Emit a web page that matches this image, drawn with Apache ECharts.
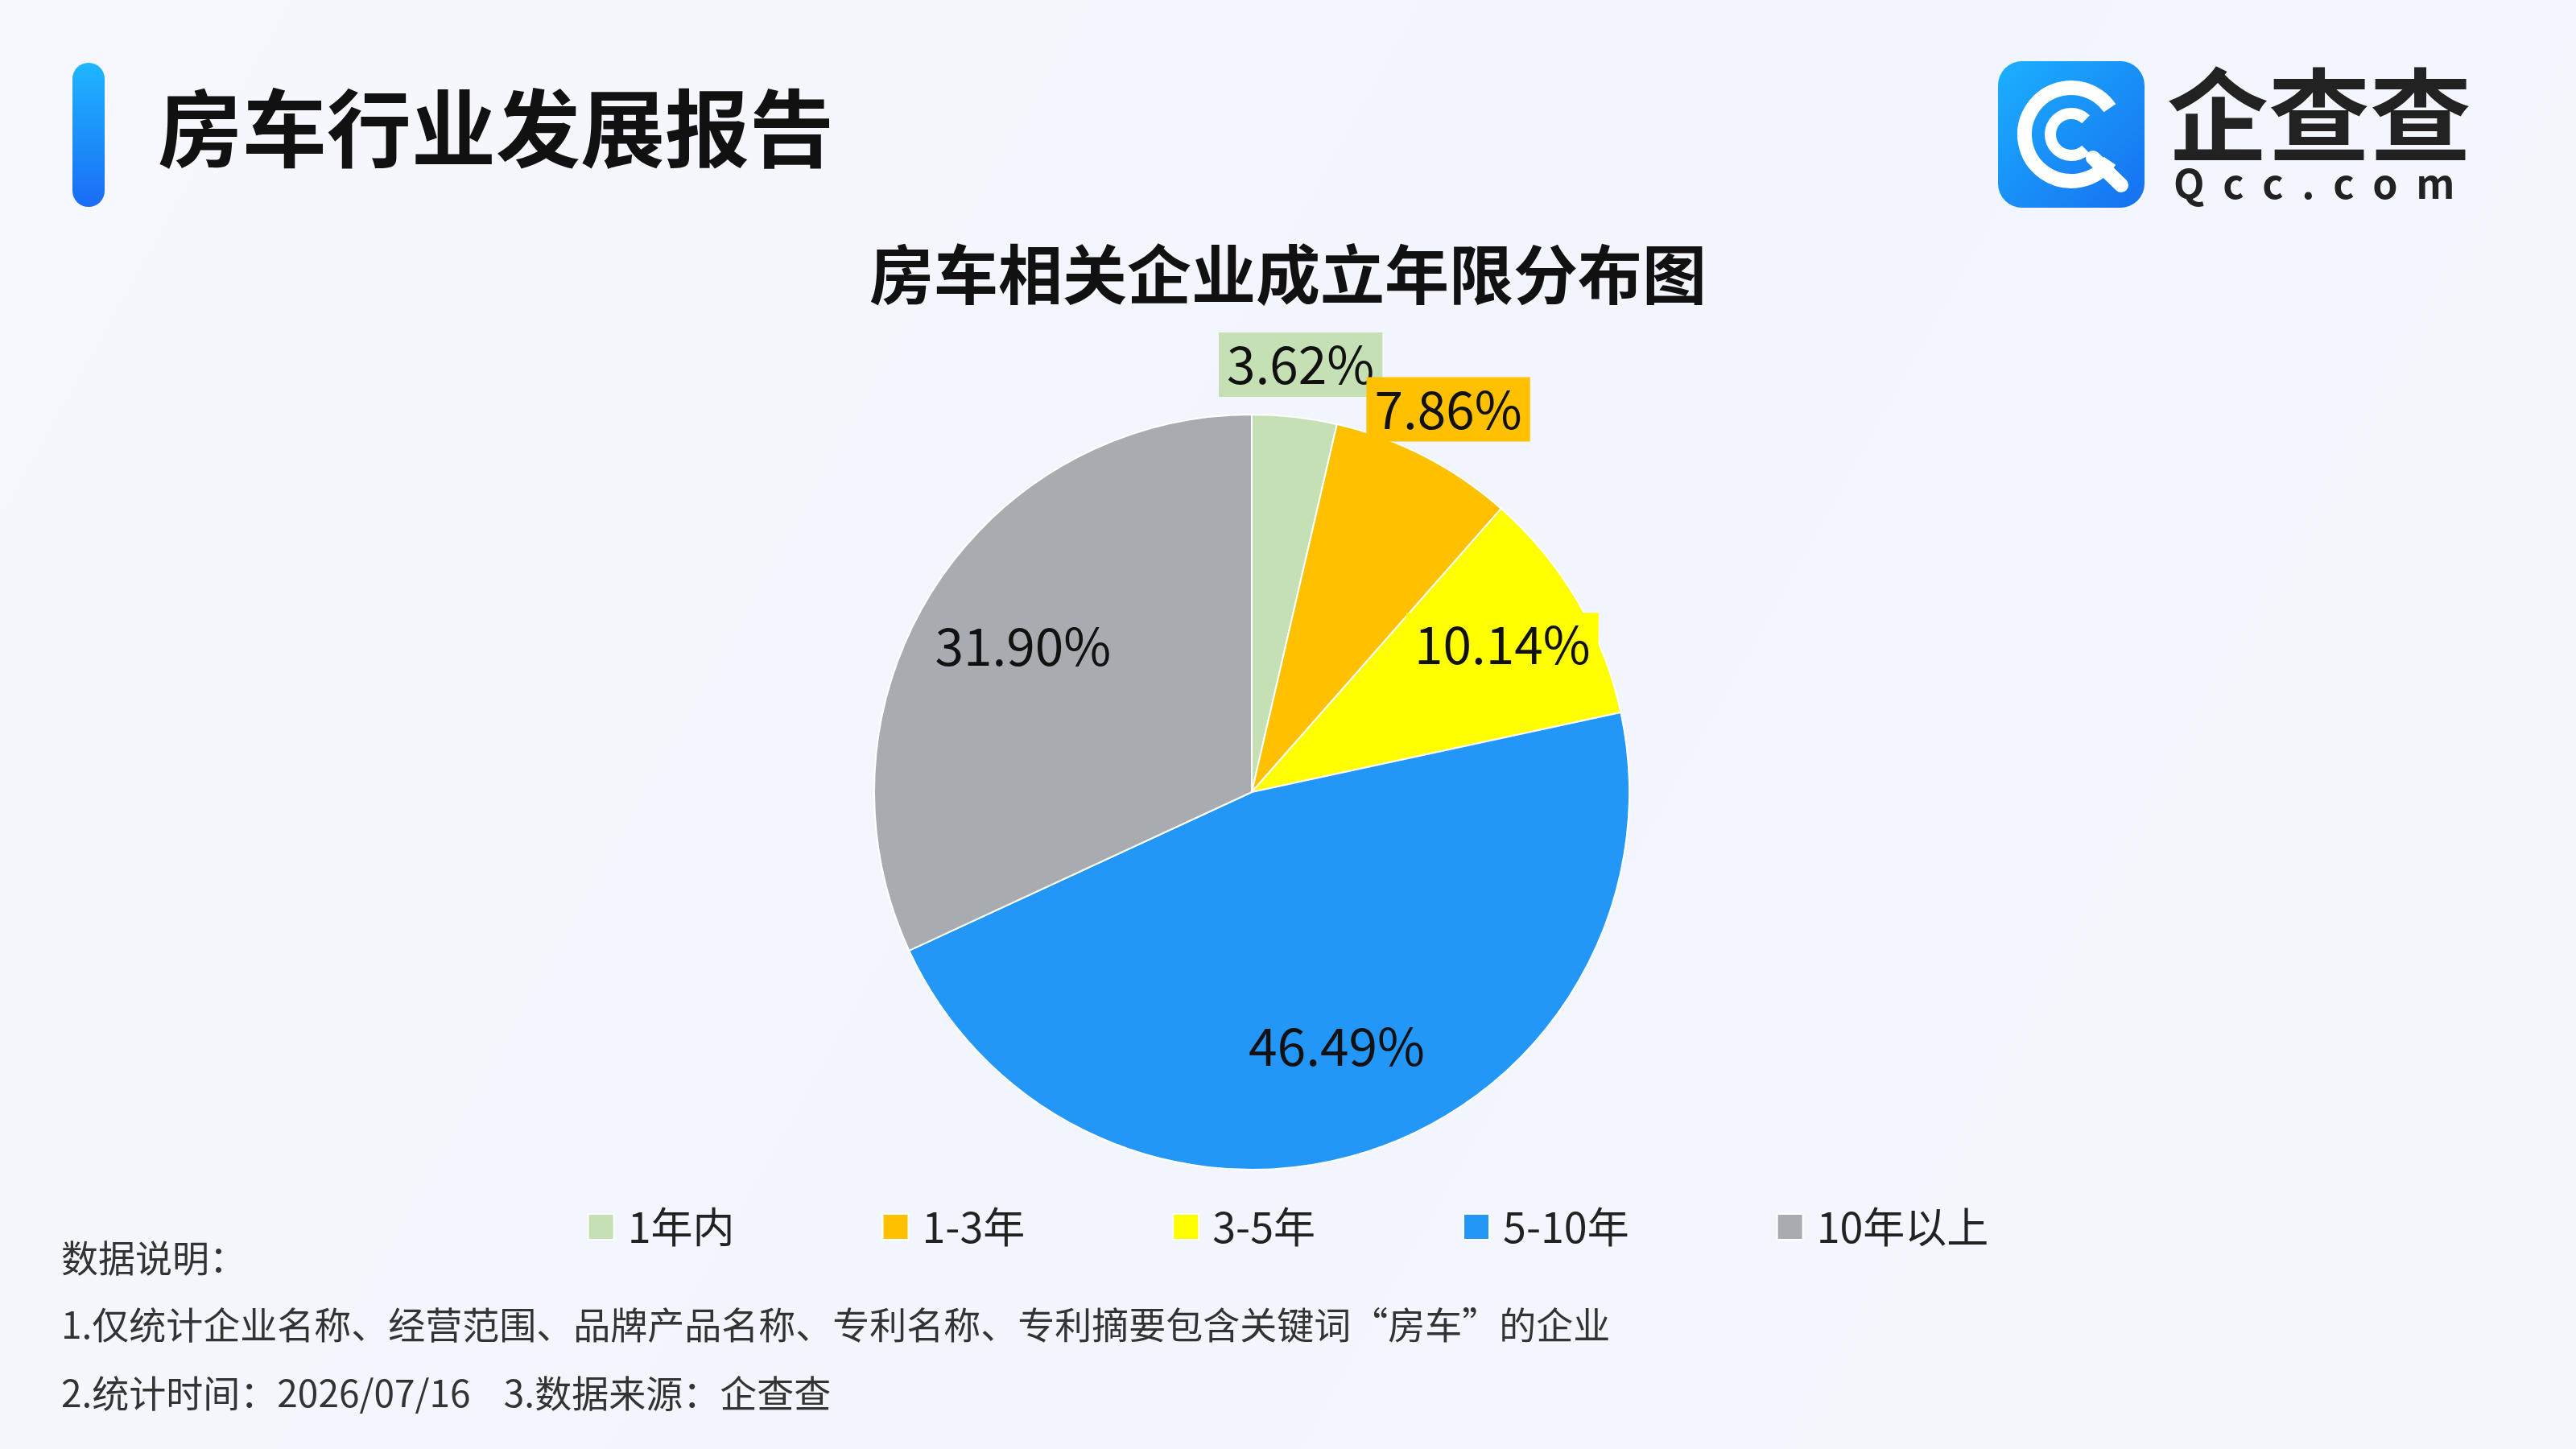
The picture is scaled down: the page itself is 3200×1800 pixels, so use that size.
<!DOCTYPE html>
<html><head><meta charset="utf-8">
<script src="https://cdn.jsdelivr.net/npm/echarts@6/dist/echarts.min.js"></script>
<style>html,body{margin:0;padding:0;}#c{width:3200px;height:1800px;}</style>
</head><body><div id="c"></div>
<script>
const categories = ['1年内','1-3年','3-5年','5-10年','10年以上'];
const values = [3.62, 7.86, 10.14, 46.49, 31.90];
const colors = ['#c5e0b4','#ffc000','#ffff00','#2397f8','#a8abaf'];
const FONT = '"Noto Sans CJK SC","Noto Sans",sans-serif';
const labelSpread = [2.25, 2.25, 1.52, 1.4, 1.42];
const chart = echarts.init(document.getElementById('c'));
const CX = 1555, CY = 984;
const data = categories.map((n,i)=>({
  name:n, value:values[i],
  itemStyle:{color:colors[i]},
  label:{ backgroundColor: i<3 ? colors[i] : 'transparent', padding:[8,10] }
}));
chart.setOption({
  backgroundColor: new echarts.graphic.LinearGradient(0,0,1,1,[{offset:0,color:'#f6f8fd'},{offset:0.5,color:'#f2f5fc'},{offset:1,color:'#f5f7fd'}]),
  title:{text:'房车相关企业成立年限分布图',left:'center',top:296,textStyle:{fontFamily:FONT,fontSize:80,fontWeight:'bold',color:'#111'}},
  legend:{bottom:245,left:'center',itemWidth:32,itemHeight:32,itemGap:183,icon:'rect',
    textStyle:{fontFamily:FONT,fontSize:52,color:'#222',padding:[0,0,0,12]}},
  series:[{type:'pie',center:[CX,CY],radius:469,startAngle:90,clockwise:true,
    itemStyle:{borderColor:'#fff',borderWidth:2},
    label:{show:true,position:'inside',formatter:p=>p.value.toFixed(2)+'%',fontFamily:FONT,fontSize:64,color:'#111'},
    labelLine:{show:false},
    labelLayout:function(p){
      const r=p.labelRect, k=labelSpread[p.dataIndex];
      const mx=r.x+r.width/2-CX, my=r.y+r.height/2-CY;
      return {dx:mx*(k-1), dy:my*(k-1)};
    },
    data:data}],
  graphic:[
    {type:'rect',shape:{x:90,y:78,width:40,height:179,r:20},style:{fill:new echarts.graphic.LinearGradient(0,0,0,1,[{offset:0,color:'#1fb6ff'},{offset:1,color:'#1a6cf5'}])}},
    {type:'text',style:{x:196,y:159,text:'房车行业发展报告',fontFamily:FONT,fontSize:105,fontWeight:'bold',fill:'#111',verticalAlign:'middle'}},
    {type:'rect',shape:{x:2482,y:76,width:182,height:182,r:30},style:{fill:new echarts.graphic.LinearGradient(0,0,1,1,[{offset:0,color:'#1bb0ff'},{offset:1,color:'#1670f0'}])}},
    {type:'arc',shape:{cx:2573,cy:167,r:58,startAngle:0.6,endAngle:-0.6,clockwise:true},style:{stroke:'#fff',lineWidth:18,fill:null}},
    {type:'arc',shape:{cx:2573,cy:167,r:26,startAngle:0.8,endAngle:-0.8,clockwise:true},style:{stroke:'#fff',lineWidth:14,fill:null}},
    {type:'line',shape:{x1:2600,y1:196,x2:2635,y2:230},style:{stroke:'#fff',lineWidth:18,lineCap:'round'}},
    {type:'text',style:{x:2692,y:143,text:'企查查',fontFamily:FONT,fontSize:126,fontWeight:'bold',fill:'#222',verticalAlign:'middle'}},
    {type:'text',style:{x:2700,y:228,text:'Q  c  c  .  c  o  m',fontFamily:FONT,fontSize:50,fontWeight:'bold',fill:'#222',verticalAlign:'middle'}},
    {type:'text',style:{x:76,y:1563,text:'数据说明：',fontFamily:FONT,fontSize:46,fill:'#333',verticalAlign:'middle'}},
    {type:'text',style:{x:76,y:1646,text:'1.仅统计企业名称、经营范围、品牌产品名称、专利名称、专利摘要包含关键词“房车”的企业',fontFamily:FONT,fontSize:46,fill:'#333',verticalAlign:'middle'}},
    {type:'text',style:{x:76,y:1731,text:'2.统计时间：2026/07/16    3.数据来源：企查查',fontFamily:FONT,fontSize:46,fill:'#333',verticalAlign:'middle'}}
  ]
});
</script></body></html>
